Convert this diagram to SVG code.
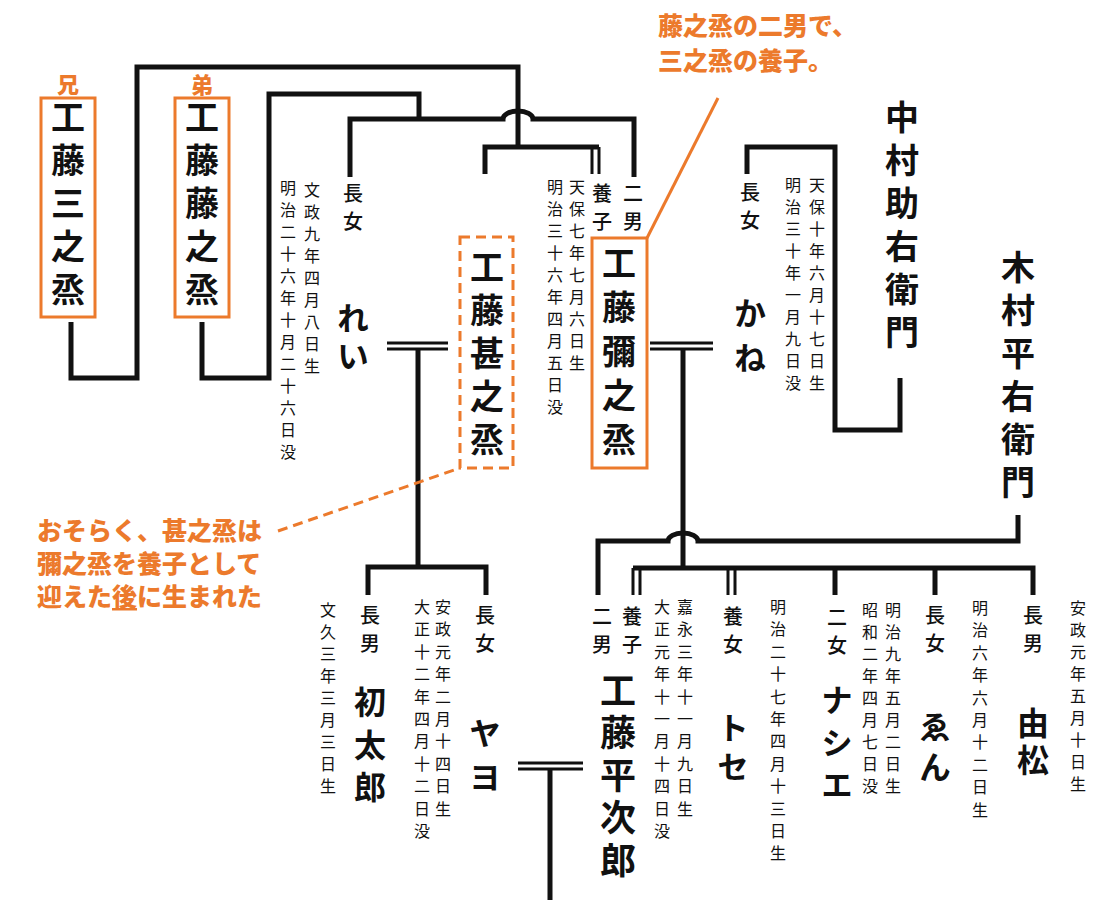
<svg xmlns="http://www.w3.org/2000/svg" width="1111" height="900" viewBox="0 0 1111 900">
<style>
.v{writing-mode:vertical-rl;font-family:"Noto Sans CJK JP","Noto Sans CJK SC",sans-serif;fill:#111}
.nm{font-size:34px;font-weight:700;letter-spacing:9px}
.kn{font-size:32px;font-weight:700}
.lb{font-size:20px;font-weight:500;letter-spacing:8px}
.dt{font-size:16px;font-weight:400;letter-spacing:6px}
.dt2{font-size:16px;font-weight:400;letter-spacing:6.4px}
.ln{fill:none;stroke:#111;stroke-width:5;stroke-linejoin:miter;stroke-linecap:butt}
.dl{fill:none;stroke:#111;stroke-width:3}
.ob{fill:none;stroke:#EC7A2C;stroke-width:3}
.od{fill:none;stroke:#EC7A2C;stroke-width:3;stroke-dasharray:10 6}
.ot{font-family:"Noto Sans CJK JP","Noto Sans CJK SC",sans-serif;font-weight:900;fill:#EC7A2C}
</style>
<rect width="1111" height="900" fill="#fff"/>
<g id="connectors">
<path class="ln" d="M71,322 V378 H137 V67 H518 V147"/>
<path class="ln" d="M485,174 V147 H599"/>
<path class="dl" d="M592,147 V174 M599,147 V174"/>
<path class="ln" d="M202,322 V378 H269 V94 H419 V119"/>
<path class="ln" d="M350,177 V119 H503 A15,8 0 0 1 533,119 H634 V177"/>
<path class="dl" d="M387,343 H448 M387,349 H448"/>
<path class="ln" d="M418,349 V567"/>
<path class="ln" d="M368,595 V567 H486 V595"/>
<path class="dl" d="M650,343 H713 M650,349 H713"/>
<path class="ln" d="M683,349 V568"/>
<path class="ln" d="M900,378 V430 H835 V147 H747 V174"/>
<path class="ln" d="M598,595 V541 H668 A15,8 0 0 1 698,541 H1018 V515"/>
<path class="ln" d="M633,568 H1033 V595"/>
<path class="ln" d="M835,568 V595 M935,568 V595"/>
<path class="dl" d="M633,568 V595 M640,568 V595 M728,568 V595 M735,568 V595"/>
<path class="dl" d="M518,763 H583 M518,769 H583"/>
<path class="ln" d="M550,769 V900"/>
</g>
<g id="n-sannojo">
<rect class="ob" x="41" y="98" width="54" height="219"/>
<text class="ot" x="68" y="93" style="font-size:22px" text-anchor="middle">兄</text>
<text class="v nm" x="68" y="100">工藤三之烝</text>
</g>
<g id="n-tonojo">
<rect class="ob" x="175" y="98" width="54" height="219"/>
<text class="ot" x="202" y="93" style="font-size:22px" text-anchor="middle">弟</text>
<text class="v nm" x="202" y="100">工藤藤之烝</text>
</g>
<g id="n-rei">
<text class="v lb" x="353" y="183">長女</text>
<text class="v kn" x="353" y="302" style="letter-spacing:6px">れい</text>
<text class="v dt" x="312" y="182">文政九年四月八日生</text>
<text class="v dt" x="288" y="180">明治二十六年十月二十六日没</text>
</g>
<g id="n-jinnojo">
<rect class="od" x="460" y="237" width="53" height="231"/>
<text class="v nm" x="487" y="250">工藤甚之烝</text>
</g>
<g id="n-yanojo">
<rect class="ob" x="592" y="238" width="55" height="230"/>
<text class="v lb" x="602" y="183">養子</text>
<text class="v lb" x="633" y="183">二男</text>
<text class="v nm" x="619" y="246" style="letter-spacing:10px">工藤彌之烝</text>
<text class="v dt" x="577" y="179">天保七年七月六日生</text>
<text class="v dt" x="555" y="179">明治三十六年四月五日没</text>
</g>
<g id="n-kane">
<text class="v lb" x="750" y="182">長女</text>
<text class="v kn" x="750" y="297" style="letter-spacing:13px">かね</text>
<text class="v dt" x="817" y="177">天保十年六月十七日生</text>
<text class="v dt" x="793" y="177">明治三十年一月九日没</text>
</g>
<g id="n-nakamura">
<text class="v nm" x="902" y="100">中村助右衛門</text>
</g>
<g id="n-kimura">
<text class="v nm" x="1018" y="250">木村平右衛門</text>
</g>
<g id="n-hatsutaro">
<text class="v lb" x="370" y="605">長男</text>
<text class="v kn" x="370" y="686" style="letter-spacing:10.5px">初太郎</text>
<text class="v dt" x="328" y="602">文久三年三月三日生</text>
</g>
<g id="n-yayo">
<text class="v lb" x="485" y="605">長女</text>
<text class="v kn" x="485" y="717" style="letter-spacing:12px">ヤヨ</text>
<text class="v dt2" x="443" y="599">安政元年二月十四日生</text>
<text class="v dt2" x="422" y="599">大正十二年四月十二日没</text>
</g>
<g id="n-heijiro">
<text class="v lb" x="602" y="606">二男</text>
<text class="v lb" x="632" y="606">養子</text>
<text class="v nm" x="618" y="672" style="font-size:36px;letter-spacing:6.5px">工藤平次郎</text>
<text class="v dt2" x="685" y="599">嘉永三年十一月九日生</text>
<text class="v dt2" x="662" y="599">大正元年十一月十四日没</text>
</g>
<g id="n-tose">
<text class="v lb" x="733" y="606">養女</text>
<text class="v kn" x="733" y="712" style="letter-spacing:7px">トセ</text>
<text class="v dt2" x="778" y="599">明治二十七年四月十三日生</text>
</g>
<g id="n-nashie">
<text class="v lb" x="837" y="607">二女</text>
<text class="v kn" x="837" y="684" style="letter-spacing:10.5px">ナシエ</text>
</g>
<g id="n-en">
<text class="v lb" x="935" y="605">長女</text>
<text class="v kn" x="935" y="711" style="letter-spacing:8px">ゑん</text>
<text class="v dt" x="893" y="602">明治九年五月二日生</text>
<text class="v dt" x="870" y="602">昭和二年四月七日没</text>
</g>
<g id="n-yoshimatsu">
<text class="v lb" x="1033" y="605">長男</text>
<text class="v kn" x="1033" y="707" style="letter-spacing:5px">由松</text>
<text class="v dt2" x="980" y="600">明治六年六月十二日生</text>
<text class="v dt" x="1078" y="600">安政元年五月十日生</text>
</g>
<g id="note-top">
<path class="ob" d="M647,238 L718,98"/>
<text class="ot" font-size="25" x="658" y="35">藤之烝の二男で、</text>
<text class="ot" font-size="25" x="658" y="70">三之烝の養子。</text>
</g>
<g id="note-bottom">
<path class="od" d="M278,531 L460,468"/>
<text class="ot" font-size="25" x="37" y="540">おそらく、甚之烝は</text>
<text class="ot" font-size="25" x="37" y="573">彌之烝を養子として</text>
<text class="ot" font-size="25" x="37" y="606">迎えた<tspan style="text-decoration:underline">後</tspan>に生まれた</text>
</g>
</svg>
